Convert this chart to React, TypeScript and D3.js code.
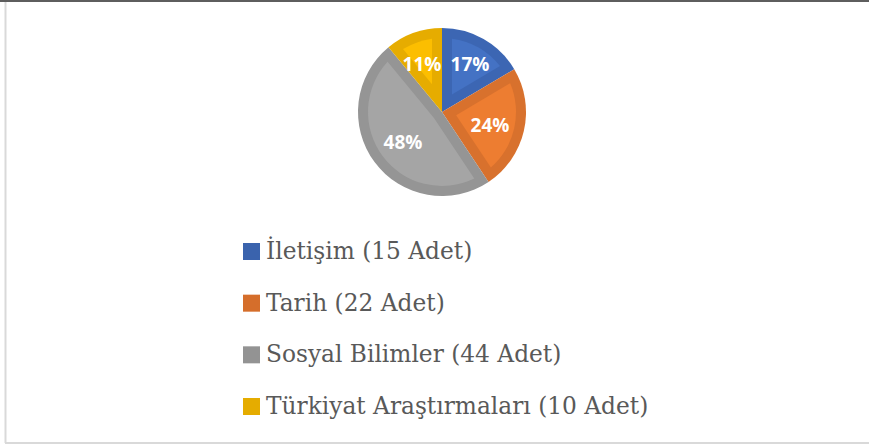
import React from "react";
import * as d3 from "d3";

const categories = ["İletişim", "Tarih", "Sosyal Bilimler", "Türkiyat Araştırmaları"];
const counts = [15, 22, 44, 10];
const percentLabels = ["17%", "24%", "48%", "11%"];
const outerColors = ["#3c66b3", "#d8712d", "#959595", "#e6ac00"];
const innerColors = ["#4472c4", "#ed7d31", "#a5a5a5", "#fcbe00"];
const legendColors = ["#3a63ad", "#d56e2b", "#939393", "#e5ac00"];

const W = 869;
const H = 448;
const cx = 442;
const cy = 112;
const R = 84;
const inset = 10;

function insetWedge(a0: number, a1: number, r: number, d: number): string {
  const theta = a1 - a0;
  const mid = (a0 + a1) / 2;
  const apexDist = d / Math.sin(theta / 2);
  const toXY = (a: number, rr: number): [number, number] => [rr * Math.sin(a), -rr * Math.cos(a)];
  const apex = toXY(mid, apexDist);
  const Rp = r - d;
  const t = Math.sqrt(Rp * Rp - d * d);
  const da = Math.atan2(d, t);
  const b0 = a0 + da;
  const b1 = a1 - da;
  const p = d3.path();
  p.moveTo(apex[0], apex[1]);
  const s = toXY(b0, Rp);
  p.lineTo(s[0], s[1]);
  p.arc(0, 0, Rp, b0 - Math.PI / 2, b1 - Math.PI / 2, false);
  p.closePath();
  return p.toString();
}

export default function App() {
  const pie = d3.pie<number>().sort(null).value((v) => v);
  const arcs = pie(counts);
  const arcGen = d3.arc<d3.PieArcDatum<number>>().innerRadius(0).outerRadius(R);
  const labelPos: [number, number][] = [
    [28, -48],
    [48, 13],
    [-39, 30],
    [-20, -48],
  ];
  const legendY = d3.scaleLinear().domain([0, 3]).range([259, 414]);

  return (
    <div style={{ position: "absolute", left: 0, top: 0 }}>
      <svg width={W} height={H} style={{ display: "block" }}>
        <rect x={0} y={0} width={W} height={H} fill="#ffffff" />
        <line x1={0} x2={W} y1={1} y2={1} stroke="#5e5e5e" strokeWidth={2} />
        <line x1={5.5} x2={5.5} y1={2} y2={443} stroke="#d9d9d9" strokeWidth={2} />
        <line x1={5} x2={W} y1={443} y2={443} stroke="#d9d9d9" strokeWidth={2} />
        <g transform={`translate(${cx},${cy})`}>
          {arcs.map((a, i) => (
            <path key={"o" + i} d={arcGen(a) || ""} fill={outerColors[i]} />
          ))}
          {arcs.map((a, i) => (
            <path key={"i" + i} d={insetWedge(a.startAngle, a.endAngle, R, inset)} fill={innerColors[i]} />
          ))}
          {arcs.map((a, i) => (
            <text
              key={"t" + i}
              x={labelPos[i][0]}
              y={labelPos[i][1]}
              textAnchor="middle"
              dominantBaseline="central"
              fill="#ffffff"
              fontFamily="'Open Sans', sans-serif"
              fontWeight="bold"
              fontSize={19}
            >
              {percentLabels[i]}
            </text>
          ))}
        </g>
        {categories.map((c, i) => (
          <g key={"l" + i}>
            <rect x={243} y={legendY(i) - 16} width={17} height={17} fill={legendColors[i]} />
            <text
              x={266}
              y={legendY(i)}
              fill="#595959"
              fontFamily="'DejaVu Serif', serif"
              fontSize={23.3}
            >
              {`${c} (${counts[i]} Adet)`}
            </text>
          </g>
        ))}
      </svg>
    </div>
  );
}
